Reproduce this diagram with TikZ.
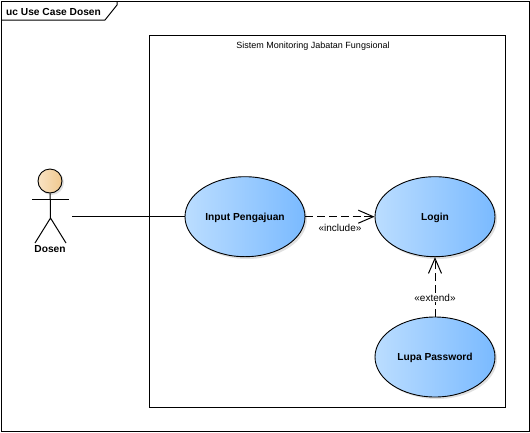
\documentclass[tikz,border=0pt]{standalone}
\usepackage{fontspec}
\setmainfont{Liberation Sans}
\usetikzlibrary{shapes.geometric,arrows.meta}
\definecolor{uclight}{HTML}{BBDDFF}
\definecolor{ucdark}{HTML}{7ABAFF}
\definecolor{headlight}{HTML}{F9E3C4}
\definecolor{headdark}{HTML}{F0C88E}
\tikzset{
  x=1pt,y=-1pt,
  edge/.style={draw=black,line width=1pt},
  usecase/.style={ellipse,draw=black,line width=0.9pt,minimum width=120pt,minimum height=80pt,inner sep=0pt,text height=8pt,text depth=1.4pt,left color=uclight,right color=ucdark,font=\fontsize{10.2}{12}\selectfont\bfseries},
  caseshadow/.style={ellipse,minimum width=120pt,minimum height=80pt,inner sep=0pt,fill=black,opacity=0.12},
  depend/.style={edge,dash pattern=on 8pt off 3.8pt,-{Straight Barb[length=15pt,width=13pt,line width=1pt]}},
  stereo/.style={font=\fontsize{10}{12}\selectfont,inner sep=1pt},
}
\begin{document}
\begin{tikzpicture}
\useasboundingbox (0,0) rectangle (530,432);
\fill[white] (0,0) rectangle (530,432);
% frame
\draw[edge] (1.5,1.5) rectangle (529.5,431);
\draw[edge] (1.5,20) -- (105,20) -- (117,5) -- (117,1.5);
\node[anchor=west,inner sep=0pt,font=\fontsize{10.2}{12}\selectfont\bfseries] (frametitle) at (6,11.5) {uc Use Case Dosen};
% system
\node[draw=black,line width=1pt,minimum width=356pt,minimum height=371.5pt,inner sep=0pt] (system) at (327.5,221.25) {};
\node[inner sep=0pt,font=\fontsize{9}{11}\selectfont] (systemtitle) at (313,46.3) {Sistem Monitoring Jabatan Fungsional};
% shadows
\node[caseshadow] (s1) at (247,219) {};
\node[caseshadow] (s2) at (437,219) {};
\node[caseshadow] (s3) at (437,359) {};
% use cases
\node[usecase] (input) at (245,216.7) {Input Pengajuan};
\node[usecase] (login) at (435,216.7) {Login};
\node[usecase] (lupa) at (435,357) {Lupa Password};
% actor
\fill[black,opacity=0.12] (51.5,182.5) circle (12.5pt);
\node[circle,draw=black,line width=0.9pt,minimum size=24pt,inner sep=0pt,left color=headlight,right color=headdark] (head) at (50,181) {};
\coordinate (hip) at (50.5,218);
\coordinate (armL) at (32,199);
\coordinate (armR) at (69,199);
\coordinate (footL) at (35,243);
\coordinate (footR) at (66,243);
\draw[edge] (head) -- (hip);
\draw[edge] (armL) -- (armR);
\draw[edge] (footL) -- (hip) -- (footR);
\node[inner sep=0pt,font=\fontsize{10.2}{12}\selectfont\bfseries] (dosen) at (50,249.5) {Dosen};
\coordinate (actorend) at (72,216.7);
% connectors
\draw[edge] (actorend) -- (input.west);
\draw[depend] (input.east) -- (login.west);
\draw[depend] (lupa.north) -- (login.south);
\node[stereo] (inc) at (340,227.7) {«include»};
\node[stereo,fill=white] (ext) at (435,297.5) {«extend»};
\end{tikzpicture}
\end{document}
